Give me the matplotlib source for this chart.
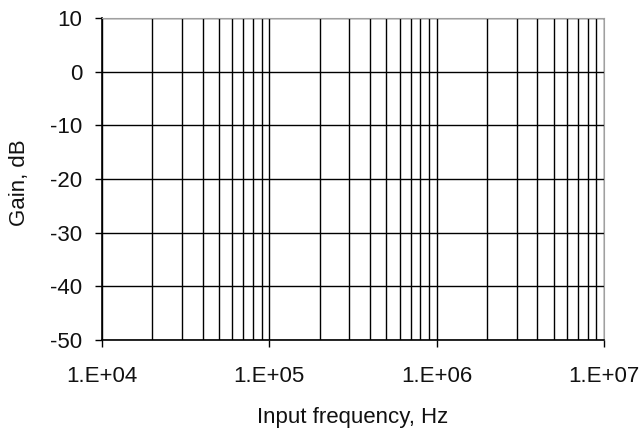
import numpy as np
import matplotlib
matplotlib.use("Agg")
import matplotlib.pyplot as plt
from matplotlib.ticker import FixedLocator, NullFormatter

# axis data
x_decades = [1e4, 1e5, 1e6, 1e7]
x_labels = ["1.E+04", "1.E+05", "1.E+06", "1.E+07"]
y_ticks = [-50, -40, -30, -20, -10, 0, 10]
y_labels = ["-50", "-40", "-30", "-20", "-10", "0", "10"]
x_label = "Input frequency, Hz"
y_label = "Gain, dB"

plt.rcParams['font.family'] = ['Liberation Sans', 'DejaVu Sans']
plt.rcParams['axes.unicode_minus'] = False
FS = 16

fig = plt.figure(figsize=(6.42, 4.33), dpi=100, facecolor="white")
ax = fig.add_axes([102/642, 1 - 340/433, (604-102)/642, (340-18)/433])

ax.set_xscale("log")
ax.set_xlim(x_decades[0], x_decades[-1])
ax.set_ylim(y_ticks[0], y_ticks[-1])

ax.xaxis.set_major_locator(FixedLocator(x_decades))
ax.set_xticklabels(x_labels)
minors = [d * m for d in x_decades[:-1] for m in range(2, 10)]
ax.xaxis.set_minor_locator(FixedLocator(minors))
ax.xaxis.set_minor_formatter(NullFormatter())
ax.set_yticks(y_ticks)
ax.set_yticklabels(y_labels)

ax.grid(True, which="both", axis="x", color="black", linewidth=1.0)
ax.grid(True, which="major", axis="y", color="black", linewidth=1.0)
ax.set_axisbelow(True)

ax.tick_params(axis="both", which="major", direction="out", length=5,
               width=1, color="black", labelsize=FS, labelcolor="#111111")
ax.tick_params(axis="x", which="minor", length=0)
ax.tick_params(axis="x", which="major", pad=13.5)
ax.tick_params(axis="y", which="major", pad=9)

for s in ["top", "right"]:
    ax.spines[s].set_color("#a0a0a0")
for s in ["left", "bottom"]:
    ax.spines[s].set_color("black")
    ax.spines[s].set_linewidth(1.2)

ax.set_xlabel(x_label, fontsize=FS, va="center", color="#111111")
ax.xaxis.set_label_coords(0.5, (340 - 417) / 322)
ax.set_ylabel(y_label, fontsize=FS, va="center", color="#111111")
ax.yaxis.set_label_coords((20 - 102) / 502, 0.49)

fig.savefig("out.png", dpi=100, facecolor="white")
